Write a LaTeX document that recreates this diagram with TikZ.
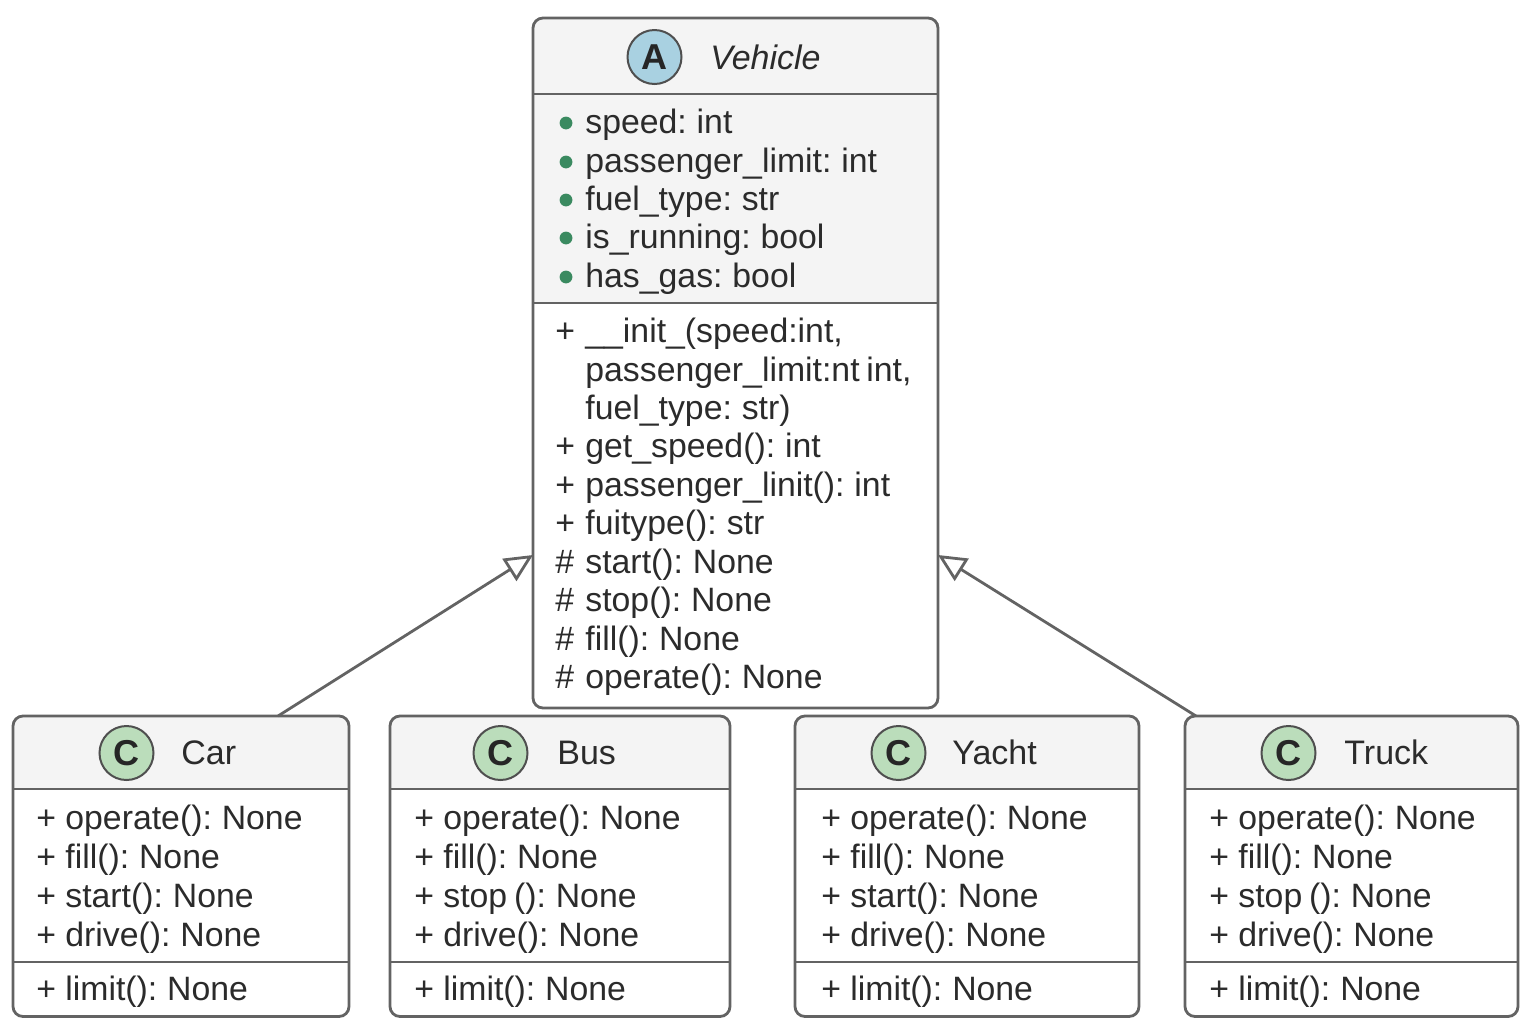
\documentclass[tikz,border=0pt]{standalone}
\usepackage{fontspec}
\setmainfont[WordSpace=0.72]{Liberation Sans}
\usetikzlibrary{arrows.meta, positioning}

\definecolor{umlline}{HTML}{636363}
\definecolor{umlhead}{HTML}{F4F4F4}
\definecolor{umltext}{HTML}{2B2B2B}
\definecolor{abstractfill}{HTML}{A9D1E1}
\definecolor{classfill}{HTML}{BBDDBB}
\definecolor{fieldgreen}{HTML}{3A8A60}

\tikzset{
    classbox/.style={draw=umlline, line width=1.4pt, rounded corners=5pt, inner sep=0pt, outer sep=0pt, anchor=north west},
    divider/.style={draw=umlline, line width=1.4pt},
    membertext/.style={anchor=base west, inner sep=0pt, text=umltext, font=\fontsize{16.9}{18}\selectfont},
    titletext/.style={membertext, font=\fontsize{17}{18}\selectfont},
    spotbadge/.style={circle, draw=umlline!80!black, line width=1pt, minimum size=27pt, inner sep=0pt, text=black!85, font=\fontsize{18}{18}\selectfont\bfseries},
    inherits/.style={draw=umlline, line width=1.4pt, -{Triangle[open, length=14pt, width=13pt, fill=white]}},
}

\begin{document}
\begin{tikzpicture}[x=0.5pt,y=-0.5pt]
    \useasboundingbox (0,0) rectangle (1536,1024);

    % Vehicle
    \fill[umlhead] (533,303) [rounded corners=5pt] -- (533,18) -- (938,18) [sharp corners] -- (938,303) -- cycle;
    \node[classbox, minimum width=202.5pt, minimum height=345pt] (vehicle) at (533,18) {};
    \draw[divider] (533,94) -- (938,94);
    \draw[divider] (533,303) -- (938,303);
    \node[spotbadge, fill=abstractfill] (vehiclespot) at (654.5,57) {A};
    \node[titletext, font=\fontsize{17}{18}\selectfont\itshape] (vehicletitle) at (710,69) {Vehicle};
    \foreach \y/\label in {133/speed: int,172/passenger\_limit: int,210/fuel\_type: str,248/is\_running: bool,287/has\_gas: bool} {
        \fill[fieldgreen] (566,\y-10) circle (3.2pt);
        \node[membertext] at (585,\y) {\label};
    }
    \foreach \y/\sym/\label in {342/+/{\_\_init\_(speed:int,},
        381//{passenger\_limit:nt int,},
        419//fuel\_type: str),
        457/+/get\_speed(): int,
        496/+/passenger\_linit(): int,
        534/+/fuitype(): str,
        573/\#/start(): None,
        611/\#/stop(): None,
        650/\#/fill(): None,
        688/\#/operate(): None} {
        \node[membertext] at (555,\y) {\sym};
        \node[membertext] at (585,\y) {\label};
    }

    % subclasses
    \foreach \name/\xa/\xb/\textx/\spotx/\titlex/\title/\second in {
        car/13/349/36/126.5/181/Car/start,
        bus/390/730/414/500.5/557/Bus/stop ,
        yacht/795/1139/821/898.5/952/Yacht/start,
        truck/1185/1518/1209/1288.5/1344/Truck/stop } {
        \fill[umlhead] (\xa,789) [rounded corners=5pt] -- (\xa,716) -- (\xb,716) [sharp corners] -- (\xb,789) -- cycle;
        \node[classbox, minimum width={(\xb-\xa)*0.5pt}, minimum height=150.25pt] (\name) at (\xa,716) {};
        \draw[divider] (\xa,789) -- (\xb,789);
        \draw[divider] (\xa,962) -- (\xb,962);
        \node[spotbadge, fill=classfill] (\name spot) at (\spotx,753) {C};
        \node[titletext] (\name title) at (\titlex,764) {\title};
        \foreach \y/\label in {829/operate(): None,868/fill(): None,907/\second(): None,946/drive(): None,1000/limit(): None} {
            \node[membertext] at (\textx,\y) {+};
            \node[membertext] at (\textx+29,\y) {\label};
        }
    }

    \draw[inherits] ([xshift=48.5pt]car.north) -- ([yshift=-96pt]vehicle.west);
    \draw[inherits] ([xshift=-77.75pt]truck.north) -- ([yshift=-96pt]vehicle.east);
\end{tikzpicture}
\end{document}
